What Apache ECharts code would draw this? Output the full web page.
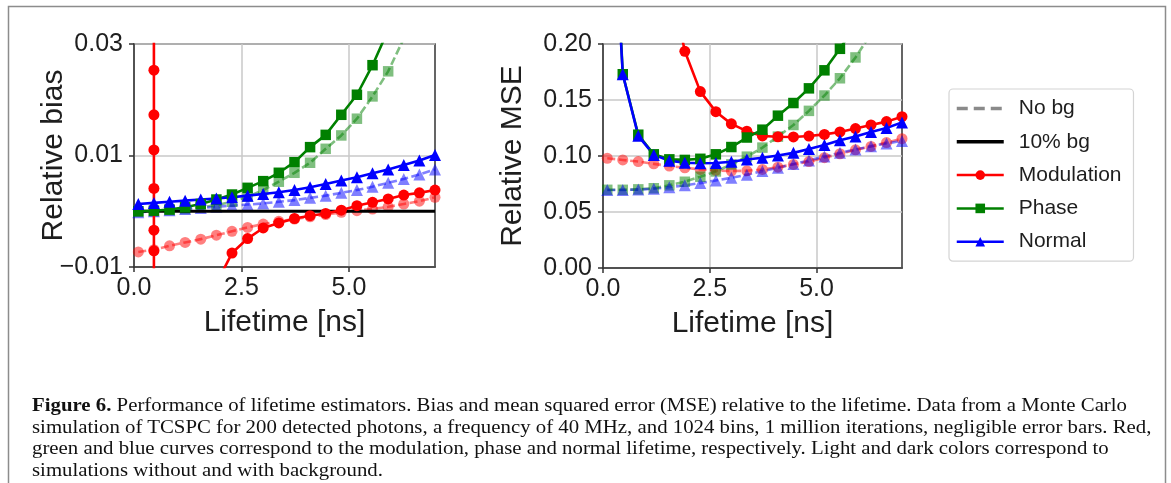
<!DOCTYPE html>
<html>
<head>
<meta charset="utf-8">
<script src="https://cdn.jsdelivr.net/npm/echarts@6/dist/echarts.min.js"></script>
<style>
html,body{margin:0;padding:0;background:#fff;}
#wrap{position:relative;width:1171px;height:483px;overflow:hidden;background:#fff;}
#chart{position:absolute;left:0;top:0;width:1171px;height:483px;}
#caption{position:absolute;left:32px;top:394px;font-family:'Liberation Serif','DejaVu Serif',serif;font-size:19.5px;line-height:21.7px;color:#111;}
#caption div{white-space:nowrap;transform-origin:0 0;}
</style>
</head>
<body>
<div id="wrap">
<div id="chart"></div>
<div id="caption">
<div class="cl"><b>Figure 6.</b> Performance of lifetime estimators. Bias and mean squared error (MSE) relative to the lifetime. Data from a Monte Carlo</div>
<div class="cl">simulation of TCSPC for 200 detected photons, a frequency of 40 MHz, and 1024 bins, 1 million iterations, negligible error bars. Red,</div>
<div class="cl">green and blue curves correspond to the modulation, phase and normal lifetime, respectively. Light and dark colors correspond to</div>
<div class="cl">simulations without and with background.</div>
</div>
</div>
<script>
// ---- data ----
const lifetime = [0.1, 0.463, 0.826, 1.189, 1.553, 1.916, 2.279, 2.642, 3.005, 3.368, 3.732, 4.095, 4.458, 4.821, 5.184, 5.547, 5.911, 6.274, 6.637, 7.0];

// Relative bias
const modNoBgBias   = [-0.0073,-0.0069,-0.0062,-0.0056,-0.0050,-0.0043,-0.0036,-0.0029,-0.0023,-0.0018,-0.0014,-0.0010,-0.0006,-0.0002,0.0001,0.0004,0.0008,0.0013,0.0018,0.0025];
const modBgBiasJump = [0.06, 0.0253, 0.0173, 0.0110, 0.0041, -0.0034, -0.0071, -0.2]; // all at lifetime[1]
const modBgBiasTail = [-0.09,-0.045,-0.025,-0.013,-0.0075,-0.0049,-0.0030,-0.0021,-0.0013,-0.0008,-0.0004,0.0002,0.0010,0.0016,0.0022,0.0029,0.0033,0.0038]; // lifetime[2..19]
const phaseNoBgBias = [-0.0001,0.0000,0.0002,0.0004,0.0007,0.0011,0.0017,0.0026,0.0038,0.0053,0.0069,0.0087,0.0112,0.0136,0.0166,0.0206,0.0251,0.031,0.038,0.046];
const phaseBgBias   = [0.0000,0.0001,0.0003,0.0007,0.0013,0.0021,0.0030,0.0042,0.0054,0.0069,0.0088,0.0115,0.0137,0.0173,0.0209,0.0262,0.0325,0.040,0.049,0.059];
const normNoBgBias  = [-0.0002,0.0000,0.0002,0.0004,0.0006,0.0008,0.0010,0.0012,0.0014,0.0017,0.0020,0.0024,0.0028,0.0033,0.0038,0.0044,0.0051,0.0058,0.0066,0.0075];
const normBgBias    = [0.0013,0.0015,0.0017,0.0019,0.0021,0.0023,0.0025,0.0028,0.0031,0.0034,0.0038,0.0043,0.0049,0.0055,0.0061,0.0068,0.0075,0.0083,0.0091,0.0101];
const zeroLineX = [0, 7];
const zeroLineY = [0, 0];

// Relative MSE
const modNoBgMse   = [0.0980,0.0965,0.0950,0.0930,0.0910,0.0895,0.0880,0.0872,0.0866,0.0868,0.0880,0.0900,0.0925,0.0950,0.0985,0.1020,0.1055,0.1085,0.1120,0.1155];
const modBgMse     = [1.8,0.9,0.55,0.36,0.26,0.1935,0.1575,0.1396,0.1287,0.1222,0.1179,0.1172,0.1170,0.1178,0.1193,0.1215,0.1245,0.1277,0.1307,0.1351];
const phaseNoBgMse = [0.0698,0.0698,0.0702,0.0712,0.0738,0.0770,0.0815,0.0862,0.0925,0.0994,0.1075,0.1173,0.1277,0.1403,0.1540,0.1694,0.1880,0.209,0.232,0.258];
const phaseBgMse   = [0.45,0.173,0.119,0.1015,0.097,0.0965,0.0975,0.1015,0.108,0.1165,0.1235,0.136,0.1473,0.1604,0.1765,0.1957,0.217,0.24,0.265,0.29];
const normNoBgMse  = [0.0697,0.0697,0.0700,0.0708,0.0722,0.0738,0.0758,0.0782,0.0805,0.0832,0.0865,0.0895,0.0928,0.0960,0.0995,0.1028,0.1058,0.1088,0.1112,0.1135];
const normBgMse    = [0.42,0.173,0.118,0.101,0.0958,0.094,0.0935,0.0937,0.0948,0.0968,0.0985,0.1005,0.1028,0.1062,0.1098,0.114,0.1175,0.1215,0.125,0.130];

// axes
const xTicks = [0, 2.5, 5.0];
const biasTicks = [-0.01, 0.01, 0.03];
const mseTicks = [0, 0.05, 0.10, 0.15, 0.20];
const legendNames = ['No bg', '10% bg', 'Modulation', 'Phase', 'Normal'];

// ---- chart ----
const RED = '#ff0000', GREEN = '#008000', BLUE = '#0000ff';
const FONT = "'Liberation Sans', Arial, sans-serif";
const TXT = '#1e1e1e';

function zip(xs, ys) { return ys.map((v, i) => [xs[i], v]); }

function curve(name, data, color, symbol, light, gi, size) {
  return {
    name: name, type: 'line', xAxisIndex: gi, yAxisIndex: gi,
    data: data, symbol: symbol, symbolSize: size, showSymbol: true,
    clip: true, silent: true, z: light ? 2 : 3,
    lineStyle: { color: color, width: 2.6, type: light ? [8, 3.5] : 'solid', opacity: light ? 0.5 : 1 },
    itemStyle: { color: color, opacity: light ? 0.5 : 1 }
  };
}

const modBgBiasData = modBgBiasJump.map(v => [lifetime[1], v]).concat(zip(lifetime.slice(2), modBgBiasTail));

const SC = 11, SR = 10.5, ST = 12;
const series = [
  curve('mod-nobg-bias', zip(lifetime, modNoBgBias), RED, 'circle', true, 0, SC),
  curve('phase-nobg-bias', zip(lifetime, phaseNoBgBias), GREEN, 'rect', true, 0, SR),
  curve('norm-nobg-bias', zip(lifetime, normNoBgBias), BLUE, 'triangle', true, 0, ST),
  {
    name: '10% bg', type: 'line', xAxisIndex: 0, yAxisIndex: 0, data: zip(zeroLineX, zeroLineY),
    symbol: 'none', silent: true, z: 2.5, lineStyle: { color: '#000', width: 2.8 }, itemStyle: { color: '#000' }
  },
  curve('mod-bg-bias', modBgBiasData, RED, 'circle', false, 0, SC),
  curve('phase-bg-bias', zip(lifetime, phaseBgBias), GREEN, 'rect', false, 0, SR),
  curve('norm-bg-bias', zip(lifetime, normBgBias), BLUE, 'triangle', false, 0, ST),

  curve('mod-nobg-mse', zip(lifetime, modNoBgMse), RED, 'circle', true, 1, SC),
  curve('phase-nobg-mse', zip(lifetime, phaseNoBgMse), GREEN, 'rect', true, 1, SR),
  curve('norm-nobg-mse', zip(lifetime, normNoBgMse), BLUE, 'triangle', true, 1, ST),
  curve('mod-bg-mse', zip(lifetime, modBgMse), RED, 'circle', false, 1, SC),
  curve('phase-bg-mse', zip(lifetime, phaseBgMse), GREEN, 'rect', false, 1, SR),
  curve('norm-bg-mse', zip(lifetime, normBgMse), BLUE, 'triangle', false, 1, ST),

  // legend-only entries
  { name: 'No bg', type: 'line', xAxisIndex: 1, yAxisIndex: 1, data: [], symbol: 'none',
    lineStyle: { color: '#8a8a8a', width: 3, type: [11, 6] }, itemStyle: { color: '#8a8a8a' } },
  { name: 'Modulation', type: 'line', xAxisIndex: 1, yAxisIndex: 1, data: [], symbol: 'circle',
    lineStyle: { color: RED, width: 2.5 }, itemStyle: { color: RED } },
  { name: 'Phase', type: 'line', xAxisIndex: 1, yAxisIndex: 1, data: [], symbol: 'rect',
    lineStyle: { color: GREEN, width: 2.5 }, itemStyle: { color: GREEN } },
  { name: 'Normal', type: 'line', xAxisIndex: 1, yAxisIndex: 1, data: [], symbol: 'triangle',
    lineStyle: { color: BLUE, width: 2.5 }, itemStyle: { color: BLUE } }
];

function xAxisCfg(gi) {
  return {
    type: 'value', gridIndex: gi, min: 0, max: 7.0,
    name: 'Lifetime [ns]', nameLocation: 'middle', nameGap: 41,
    nameTextStyle: { fontFamily: FONT, fontSize: 30, color: TXT },
    axisLine: { show: true, onZero: false, lineStyle: { color: '#333', width: 1.5 } },
    axisTick: { show: true, inside: false, length: 5, customValues: xTicks, lineStyle: { color: '#333', width: 1.5 } },
    axisLabel: { show: true, customValues: xTicks, margin: 9, fontFamily: FONT, fontSize: 25, color: TXT,
      formatter: v => v.toFixed(1) },
    splitLine: { show: true, lineStyle: { color: '#c8c8c8', width: 1.5 } }
  };
}
function yAxisCfg(gi, min, max, ticks, name, gap, fmt) {
  return {
    type: 'value', gridIndex: gi, min: min, max: max,
    name: name, nameLocation: 'middle', nameGap: gap, nameMoveOverlap: false,
    nameTextStyle: { fontFamily: FONT, fontSize: 30, color: TXT },
    axisLine: { show: true, onZero: false, lineStyle: { color: '#333', width: 1.5 } },
    axisTick: { show: true, inside: false, length: 5, customValues: ticks, lineStyle: { color: '#333', width: 1.5 } },
    axisLabel: { show: true, customValues: ticks, margin: 11, fontFamily: FONT, fontSize: 25, color: TXT, formatter: fmt },
    splitLine: { show: true, lineStyle: { color: '#c8c8c8', width: 1.5 } }
  };
}

const option = {
  animation: false,
  backgroundColor: 'transparent',
  grid: [
    { left: 134, top: 44, width: 301, height: 223, show: true, borderColor: '#333', borderWidth: 1.5, backgroundColor: 'transparent' },
    { left: 603, top: 44, width: 299, height: 224, show: true, borderColor: '#333', borderWidth: 1.5, backgroundColor: 'transparent' }
  ],
  xAxis: [xAxisCfg(0), xAxisCfg(1)],
  yAxis: [
    yAxisCfg(0, -0.01, 0.03, biasTicks, 'Relative bias', 65, v => (v < 0 ? '\u2212' : '') + Math.abs(v).toFixed(2)),
    yAxisCfg(1, 0, 0.20, mseTicks, 'Relative MSE', 75, v => v.toFixed(2))
  ],
  legend: {
    data: [
      { name: legendNames[0], lineStyle: { width: 3.5, type: [11, 6], color: '#8a8a8a' }, itemStyle: { color: 'rgba(0,0,0,0)', opacity: 0 } },
      { name: legendNames[1], lineStyle: { width: 3.5, color: '#000' }, itemStyle: { color: 'rgba(0,0,0,0)', opacity: 0 } },
      { name: legendNames[2], lineStyle: { width: 2.5 } },
      { name: legendNames[3], lineStyle: { width: 2.5 } },
      { name: legendNames[4], lineStyle: { width: 2.5 } }
    ],
    orient: 'vertical', left: 949, top: 89,
    padding: [9, 12, 9, 6],
    backgroundColor: '#fff', borderColor: '#d4d4d4', borderWidth: 1.2, borderRadius: 4,
    itemWidth: 47, itemHeight: 12, itemGap: 12.3,
    selectedMode: false,
    textStyle: { fontFamily: FONT, fontSize: 21, color: TXT, lineHeight: 20, padding: [0, 0, 0, 10] }
  },
  graphic: [
    { type: 'rect', silent: true, z: -1,
      shape: { x: 8.5, y: 6.5, width: 1157, height: 520 },
      style: { fill: 'transparent', stroke: '#8c8c8c', lineWidth: 1.5 } }
  ],
  series: series
};

const chart = echarts.init(document.getElementById('chart'), null, { renderer: 'canvas' });
chart.setOption(option);

// caption: squeeze lines horizontally to match the condensed serif of the original
(function () {
  const lines = document.querySelectorAll('#caption .cl');
  const range = document.createRange();
  range.selectNodeContents(lines[0]);
  const w = range.getBoundingClientRect().width;
  const s = 1095 / w;
  lines.forEach(l => { l.style.transform = 'scaleX(' + s + ')'; });
})();
</script>
</body>
</html>
